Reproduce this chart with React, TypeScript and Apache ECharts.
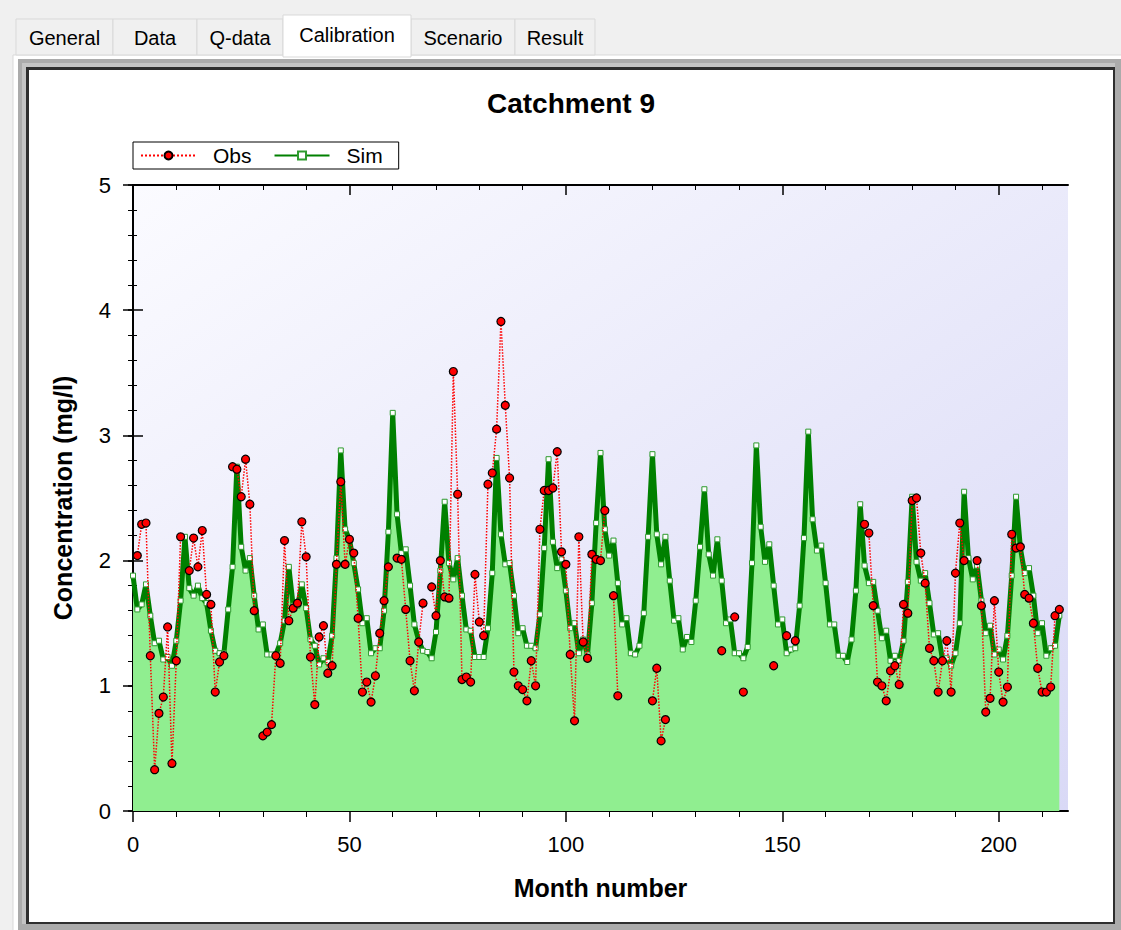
import React, { useEffect, useRef } from "react";
import * as echarts from "echarts";

const N = null;

// Simulated concentration (mg/l), month 0..214
const sim: number[] = [
  1.88, 1.61, 1.65, 1.81, 1.56, 1.34, 1.36, 1.21, 1.23, 1.16, 1.36, 1.68,
  2.19, 1.78, 1.72, 1.80, 1.70, 1.66, 1.44, 1.28, 1.26, 1.26, 1.61, 1.95,
  2.75, 2.11, 1.92, 2.02, 1.72, 1.45, 1.49, 1.25, 1.25, 1.25, 1.34, 1.52,
  1.95, 1.64, 1.64, 1.81, 1.62, 1.37, 1.32, 1.17, 1.22, 1.19, 1.40, 2.02,
  2.88, 2.25, 2.17, 1.98, 1.77, 1.50, 1.54, 1.26, 1.30, 1.30, 1.60, 2.23,
  3.18, 2.37, 2.06, 2.09, 1.80, 1.49, 1.36, 1.28, 1.27, 1.22, 1.43, 1.92,
  2.47, 1.98, 1.85, 2.02, 1.72, 1.45, 1.44, 1.23, 1.23, 1.23, 1.46, 1.90,
  2.82, 2.21, 1.97, 1.98, 1.72, 1.42, 1.46, 1.32, 1.32, 1.30, 1.57, 2.10,
  2.81, 2.15, 1.94, 2.01, 1.76, 1.46, 1.50, 1.26, 1.37, 1.25, 1.66, 2.30,
  2.86, 2.25, 2.04, 2.16, 1.82, 1.49, 1.54, 1.26, 1.25, 1.32, 1.58, 2.19,
  2.85, 2.21, 1.97, 2.19, 1.84, 1.52, 1.54, 1.29, 1.39, 1.35, 1.68, 2.11,
  2.57, 2.05, 1.88, 2.17, 1.84, 1.50, 1.53, 1.26, 1.26, 1.22, 1.31, 1.98,
  2.92, 2.27, 1.99, 2.13, 1.80, 1.49, 1.53, 1.26, 1.29, 1.30, 1.64, 2.18,
  3.03, 2.33, 2.08, 2.12, 1.82, 1.49, 1.49, 1.24, 1.24, 1.19, 1.37, 1.76,
  2.45, 1.96, 1.82, 1.83, 1.60, 1.38, 1.44, 1.20, 1.24, 1.20, 1.36, 1.83,
  2.51, 1.99, 1.84, 1.90, 1.66, 1.41, 1.42, 1.21, 1.22, 1.16, 1.26, 1.50,
  2.55, 2.02, 1.85, 1.96, 1.68, 1.42, 1.48, 1.25, 1.29, 1.21, 1.40, 1.88,
  2.51, 2.10, 1.90, 1.94, 1.72, 1.42, 1.50, 1.24, 1.30, 1.32, 1.56,
];

// Observed concentration (mg/l), month 0..214 (null = no sample)
const obs: (number | null)[] = [
  N, 2.04, 2.29, 2.30, 1.24, 0.33, 0.78, 0.91, 1.47, 0.38, 1.20, 2.19,
  N, 1.92, 2.18, 1.95, 2.24, 1.73, 1.65, 0.95, 1.19, 1.24, N, 2.75,
  2.73, 2.51, 2.81, 2.45, 1.60, N, 0.60, 0.63, 0.69, 1.24, 1.18, 2.16,
  1.52, 1.62, 1.66, 2.31, 2.03, 1.23, 0.85, 1.39, 1.48, 1.10, 1.16, 1.97,
  2.63, 1.97, 2.17, 2.06, 1.54, 0.95, 1.03, 0.87, 1.08, 1.42, 1.68, 1.95,
  N, 2.02, 2.01, 1.61, 1.20, 0.96, 1.35, 1.66, N, 1.79, 1.56, 2.00,
  1.71, 1.70, 3.51, 2.53, 1.05, 1.07, 1.03, 1.89, 1.51, 1.40, 2.61, 2.70,
  3.05, 3.91, 3.24, 2.66, 1.11, 1.00, 0.97, 0.88, 1.20, 1.00, 2.25, 2.56,
  2.56, 2.58, 2.87, 2.07, 1.97, 1.25, 0.72, 2.19, 1.35, 1.22, 2.05, 2.01,
  2.00, 2.40, N, 1.72, 0.92, N, N, N, N, N, N, N,
  0.88, 1.14, 0.56, 0.73, N, N, N, N, N, N, N, N,
  N, N, N, N, 1.28, N, N, 1.55, N, 0.95, N, N,
  N, N, N, N, 1.16, N, N, 1.40, N, 1.36, N, N,
  N, N, N, N, N, N, N, N, N, N, N, N,
  N, 2.29, 2.22, 1.64, 1.03, 1.00, 0.88, 1.12, 1.16, 1.01, 1.65, 1.58,
  2.48, 2.50, 2.06, 1.82, 1.30, 1.20, 0.95, 1.20, 1.36, 0.95, 1.90, 2.30,
  2.00, N, N, 2.00, 1.64, 0.79, 0.90, 1.68, 1.11, 0.87, 0.99, 2.21,
  2.10, 2.11, 1.73, 1.70, 1.50, 1.14, 0.95, 0.95, 0.99, 1.56, 1.61,
];

const xMajorTicks = [0, 50, 100, 150, 200];
const xMinorTicks = [10, 20, 30, 40, 60, 70, 80, 90, 110, 120, 130, 140, 160, 170, 180, 190, 210];
const tabs = ["General", "Data", "Q-data", "Calibration", "Scenario", "Result"];
const tabEdges = [16, 113, 197, 283, 411, 515, 595];
const selectedTab = 3;

const FONT = '"Liberation Sans", Arial, sans-serif';

export default function App() {
  const ref = useRef<HTMLDivElement>(null);

  useEffect(() => {
    const chart = echarts.init(ref.current!, null, { renderer: "svg" });
    const simData = sim.map((v, i) => [i, v]);
    const obsData = obs.map((v, i) => [i, v === null ? "-" : v]);

    const black = { color: "#000" };
    const xBase = { type: "value", min: 0, max: 216, splitLine: { show: false } };
    const yBase = { type: "value", min: 0, max: 5, interval: 1, splitLine: { show: false } };

    const tabGraphics: any[] = [];
    tabs.forEach((t, i) => {
      const sel = i === selectedTab;
      const x0 = tabEdges[i];
      const x1 = tabEdges[i + 1];
      tabGraphics.push({
        type: "rect",
        z: sel ? -5 : -6,
        shape: { x: x0, y: sel ? 15 : 19, width: x1 - x0, height: sel ? 42 : 36 },
        style: { fill: sel ? "#ffffff" : "#f0f0f0", stroke: "#d9d9d9", lineWidth: 1 },
      });
      tabGraphics.push({
        type: "text",
        z: -4,
        x: (x0 + x1) / 2,
        y: sel ? 35 : 38,
        style: {
          text: t,
          align: "center",
          verticalAlign: "middle",
          fontSize: 20,
          fontFamily: FONT,
          fill: "#000",
        },
      });
    });

    chart.setOption({
      animation: false,
      backgroundColor: "#f0f0f0",
      graphic: [
        { type: "rect", z: -9, shape: { x: 13, y: 55, width: 1112, height: 880 }, style: { fill: "#ffffff", stroke: "#d9d9d9", lineWidth: 1 } },
        { type: "rect", z: -8, shape: { x: 18, y: 59, width: 1103, height: 871 }, style: { fill: "#ababab" } },
        { type: "rect", z: -8, shape: { x: 22, y: 63, width: 1093, height: 861 }, style: { fill: "#c4c4c4" } },
        { type: "rect", z: -8, shape: { x: 26, y: 67, width: 1089, height: 857 }, style: { fill: "#2e2e2e" } },
        { type: "rect", z: -7, shape: { x: 29, y: 70, width: 1084, height: 852 }, style: { fill: "#ffffff" } },
        ...tabGraphics,
        {
          type: "text",
          z: 5,
          x: 571,
          y: 103,
          style: {
            text: "Catchment 9",
            align: "center",
            verticalAlign: "middle",
            fontSize: 28,
            fontWeight: "bold",
            fontFamily: FONT,
            fill: "#000",
          },
        },
      ],
      grid: {
        left: 133,
        top: 185,
        width: 935,
        height: 626,
        show: true,
        borderWidth: 0,
        backgroundColor: new echarts.graphic.LinearGradient(0, 0, 1, 1, [
          { offset: 0, color: "#fbfbff" },
          { offset: 1, color: "#d9d9f6" },
        ]),
      },
      legend: {
        data: ["Obs", "Sim"],
        left: 133,
        top: 142,
        orient: "horizontal",
        backgroundColor: "#ffffff",
        borderColor: "#000",
        borderWidth: 1,
        borderRadius: 0,
        padding: [3, 16, 3, 7],
        itemWidth: 55,
        itemHeight: 10,
        itemGap: 22,
        textStyle: { fontSize: 21, color: "#000", fontFamily: FONT, padding: [0, 0, 0, 12] },
      },
      xAxis: [
        {
          ...xBase,
          position: "bottom",
          axisLine: { show: true, lineStyle: { ...black, width: 2 } },
          axisTick: { show: true, customValues: xMajorTicks, length: 11, inside: false, lineStyle: { ...black, width: 1.5 } },
          axisLabel: { customValues: xMajorTicks, fontSize: 22, margin: 22, color: "#000", fontFamily: FONT },
          name: "Month number",
          nameLocation: "middle",
          nameGap: 64,
          nameTextStyle: { fontSize: 25, fontWeight: "bold", color: "#000", fontFamily: FONT },
        },
        {
          ...xBase,
          position: "bottom",
          axisLine: { show: false },
          axisTick: { show: true, customValues: xMinorTicks, length: 6, inside: false, lineStyle: { ...black, width: 1 } },
          axisLabel: { show: false },
        },
        {
          ...xBase,
          position: "bottom",
          axisLine: { show: false },
          axisTick: { show: true, customValues: xMajorTicks, length: 9, inside: true, lineStyle: { ...black, width: 1.5 } },
          axisLabel: { show: false },
        },
        {
          ...xBase,
          position: "top",
          axisLine: { show: true, lineStyle: { ...black, width: 2 } },
          axisTick: { show: true, customValues: xMajorTicks, length: 10, inside: true, lineStyle: { ...black, width: 1.5 } },
          axisLabel: { show: false },
        },
        {
          ...xBase,
          position: "top",
          axisLine: { show: false },
          axisTick: { show: true, customValues: xMinorTicks, length: 5, inside: true, lineStyle: { ...black, width: 1 } },
          axisLabel: { show: false },
        },
      ],
      yAxis: [
        {
          ...yBase,
          position: "left",
          axisLine: { show: true, lineStyle: { ...black, width: 2 } },
          axisTick: { show: true, length: 5, inside: false, lineStyle: { ...black, width: 1.5 } },
          minorTick: { show: true, splitNumber: 5, length: 5, lineStyle: { ...black, width: 1 } },
          axisLabel: { fontSize: 22, margin: 22, color: "#000", fontFamily: FONT },
          name: "Concentration (mg/l)",
          nameLocation: "middle",
          nameGap: 58,
          nameRotate: 90,
          nameTextStyle: { fontSize: 25, fontWeight: "bold", color: "#000", fontFamily: FONT },
        },
        {
          ...yBase,
          position: "left",
          axisLine: { show: false },
          axisTick: { show: true, length: 10, inside: true, lineStyle: { ...black, width: 1.5 } },
          minorTick: { show: true, splitNumber: 5, length: 4, lineStyle: { ...black, width: 1 } },
          axisLabel: { show: false },
        },
        {
          ...yBase,
          position: "right",
          axisLine: { show: true, lineStyle: { ...black, width: 2 } },
          axisTick: { show: true, length: 10, inside: true, lineStyle: { ...black, width: 1.5 } },
          minorTick: { show: true, splitNumber: 5, length: 5, lineStyle: { ...black, width: 1 } },
          axisLabel: { show: false },
        },
      ],
      series: [
        {
          name: "Sim",
          type: "line",
          xAxisIndex: 0,
          yAxisIndex: 0,
          data: simData,
          z: 2,
          symbol: "rect",
          symbolSize: 5,
          showAllSymbol: true,
          lineStyle: { color: "#008000", width: 5 },
          itemStyle: { color: "#ffffff", borderColor: "#2e9b2e", borderWidth: 1 },
          areaStyle: { color: "#90ee90", opacity: 1 },
          emphasis: { disabled: true },
        },
        {
          name: "Obs",
          type: "line",
          xAxisIndex: 0,
          yAxisIndex: 0,
          data: obsData,
          z: 3,
          connectNulls: false,
          symbol: "circle",
          symbolSize: 8,
          showAllSymbol: true,
          lineStyle: { color: "#ff0000", width: 1.5, type: "dotted" },
          itemStyle: { color: "#ff0000", borderColor: "#000", borderWidth: 1.2 },
          emphasis: { disabled: true },
        },
      ],
    });

    return () => chart.dispose();
  }, []);

  return (
    <div
      ref={ref}
      style={{ position: "absolute", left: 0, top: 0, width: 1121, height: 930 }}
    />
  );
}
